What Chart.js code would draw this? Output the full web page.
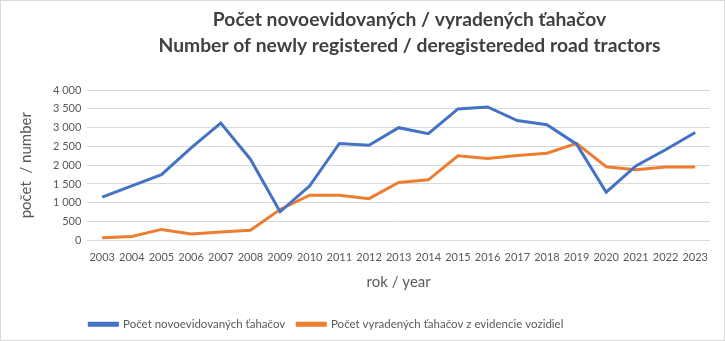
<!DOCTYPE html>
<html>
<head>
<meta charset="utf-8">
<script src="https://cdn.jsdelivr.net/npm/chart.js@4"></script>
<style>
  html, body { margin: 0; padding: 0; background: #fff; }
  .wrap { width: 723px; height: 339px; border: 1px solid #d9d9d9; }
</style>
</head>
<body>
<div class="wrap"><canvas id="myChart" width="723" height="339"></canvas></div>
<script>
// years on the x axis
const years = ['2003','2004','2005','2006','2007','2008','2009','2010','2011','2012','2013',
               '2014','2015','2016','2017','2018','2019','2020','2021','2022','2023'];

// newly registered road tractors
const newlyRegistered = [1150, 1450, 1750, 2460, 3120, 2160, 760, 1450, 2580, 2530, 3000,
                         2840, 3500, 3550, 3190, 3080, 2560, 1280, 1980, 2410, 2870];

// road tractors removed from the vehicle register
const deregistered = [70, 100, 290, 170, 220, 270, 820, 1200, 1200, 1110, 1540,
                      1610, 2250, 2180, 2260, 2320, 2580, 1960, 1880, 1950, 1950];

const yTicks = [0, 500, 1000, 1500, 2000, 2500, 3000, 3500, 4000];

const labelFont = 'Lato, "Open Sans", sans-serif';
const gray = '#595959';

const ctx = document.getElementById('myChart').getContext('2d');

// nudge the title to the right and start the legend under the plot
const shiftBlocks = {
  id: 'shiftBlocks',
  afterLayout(chart) {
    const t = chart.titleBlock;
    if (t) { t.left += 48; t.right += 48; }
    const l = chart.legend;
    if (l) {
      const dx = chart.chartArea.left - 10 - l.left;
      l.left += dx; l.right += dx;
    }
  }
};

const data = {
  labels: years,
  datasets: [
    {
      label: 'Počet novoevidovaných ťahačov',
      data: newlyRegistered,
      borderColor: '#4472C4',
      backgroundColor: '#4472C4',
      borderWidth: 3,
      pointRadius: 0,
      tension: 0
    },
    {
      label: 'Počet vyradených ťahačov z evidencie vozidiel',
      data: deregistered,
      borderColor: '#ED7D31',
      backgroundColor: '#ED7D31',
      borderWidth: 3,
      pointRadius: 0,
      tension: 0
    }
  ]
};

const config = {
  type: 'line',
  data: data,
  options: {
    responsive: false,
    animation: false,
    layout: { padding: { left: 12, right: 14, top: 6, bottom: 0 } },
    plugins: {
      title: {
        display: true,
        text: ['Počet novoevidovaných / vyradených ťahačov',
               'Number of newly registered / deregistereded road tractors'],
        color: '#404040',
        font: { family: labelFont, size: 19.3, weight: 'bold', lineHeight: 1.35 },
        padding: { top: 0, bottom: 31 }
      },
      legend: {
        position: 'bottom',
        align: 'start',
        labels: {
          color: gray,
          font: { family: labelFont, size: 11.5 },
          boxWidth: 28,
          boxHeight: 2,
          padding: 12
        }
      },
      tooltip: { enabled: false }
    },
    scales: {
      x: {
        offset: true,
        grid: { display: false },
        border: { display: false },
        ticks: { color: gray, font: { family: labelFont, size: 11 }, maxRotation: 0, autoSkip: false },
        title: {
          display: true,
          text: 'rok / year',
          color: gray,
          font: { family: labelFont, size: 15 },
          padding: { top: 6, bottom: 15 }
        }
      },
      y: {
        min: 0,
        max: 4000,
        afterBuildTicks: (axis) => { axis.ticks = yTicks.map(v => ({ value: v })); },
        grid: { color: '#d9d9d9', drawTicks: false },
        border: { display: false },
        ticks: {
          color: gray,
          padding: 6,
          font: { family: labelFont, size: 11 },
          callback: (v) => String(v).replace(/\B(?=(\d{3})+(?!\d))/g, ' ')
        },
        title: {
          display: true,
          text: 'počet  / number',
          color: gray,
          font: { family: labelFont, size: 15 },
          padding: { bottom: 12 }
        }
      }
    }
  },
  plugins: [shiftBlocks]
};

new Chart(ctx, config);
</script>
</body>
</html>
